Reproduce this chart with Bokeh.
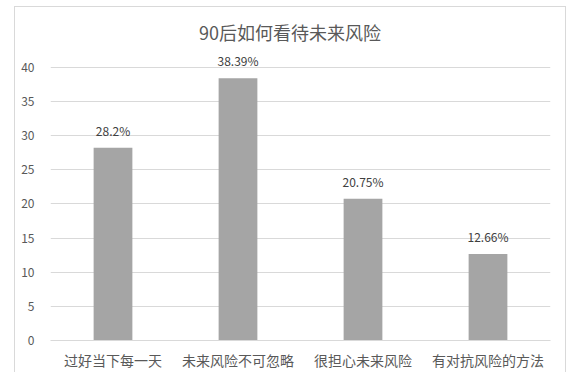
from bokeh.plotting import figure
from bokeh.models import ColumnDataSource, Range1d, FixedTicker, Label, LabelSet
from bokeh.core.properties import value
from bokeh.embed import file_html
from bokeh.resources import INLINE

title_text = "90后如何看待未来风险"
categories = ["过好当下每一天", "未来风险不可忽略", "很担心未来风险", "有对抗风险的方法"]
values = [28.2, 38.39, 20.75, 12.66]
value_labels = ["28.2%", "38.39%", "20.75%", "12.66%"]
y_ticks = [0, 5, 10, 15, 20, 25, 30, 35, 40]

FONT = "Noto Sans CJK SC"
TXT = "#595959"

src = ColumnDataSource(dict(cat=categories, val=values, lab=value_labels))

p = figure(x_range=categories, y_range=Range1d(0, 48), frame_width=500, frame_height=328,
           output_backend="svg", toolbar_location=None,
           min_border_left=35, min_border_right=15, min_border_top=5, min_border_bottom=0)
p.margin = (6, 0, 0, 14)
p.styles = {"border-top": "1px solid #D9D9D9", "border-left": "1px solid #D9D9D9",
            "border-right": "1px solid #D9D9D9"}
p.outline_line_color = None
p.background_fill_color = "white"
p.border_fill_color = "white"

p.vbar(x="cat", top="val", width=0.31, source=src, fill_color="#A5A5A5", line_color=None)
p.add_layout(LabelSet(x="cat", y="val", text="lab", source=src, text_align="center",
                      text_baseline="bottom", y_offset=9, text_font=value(FONT),
                      text_font_size=value("12px"), text_color=value("#404040")))

p.xgrid.grid_line_color = None
p.ygrid.grid_line_color = "#D9D9D9"
p.ygrid.grid_line_width = 1

p.yaxis.ticker = FixedTicker(ticks=y_ticks)
p.yaxis.axis_line_color = None
p.yaxis.major_tick_line_color = None
p.yaxis.minor_tick_line_color = None
p.yaxis.major_label_text_font = FONT
p.yaxis.major_label_text_font_size = "12px"
p.yaxis.major_label_text_color = TXT
p.yaxis.major_label_standoff = 10

p.xaxis.axis_line_color = "#D9D9D9"
p.xaxis.major_tick_line_color = None
p.xaxis.minor_tick_line_color = None
p.xaxis.major_label_text_font = FONT
p.xaxis.major_label_text_font_size = "14px"
p.xaxis.major_label_text_color = TXT
p.xaxis.major_label_standoff = 3

p.add_layout(Label(x=1.916, y=45.1, text=title_text,
                   text_align="center", text_baseline="middle", text_font=FONT,
                   text_font_size="18px", text_color=TXT))

open("out.html", "w").write(file_html(p, INLINE))
